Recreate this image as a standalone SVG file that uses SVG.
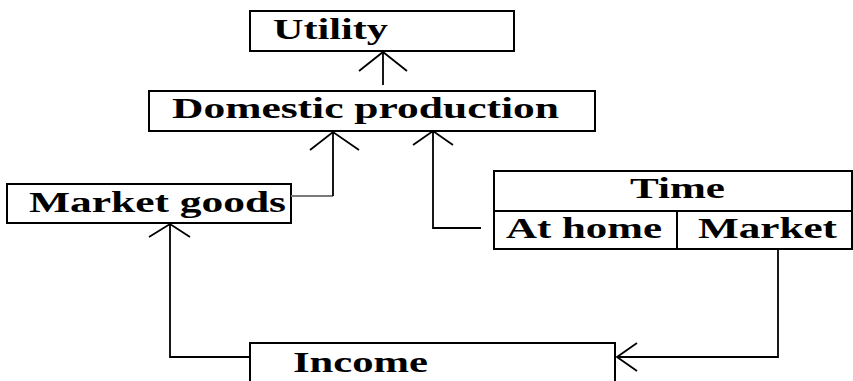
<svg xmlns="http://www.w3.org/2000/svg" width="853" height="381" viewBox="0 0 853 381">
<style>
.box{fill:#fff;stroke:#000;stroke-width:2}
.lbl{font-family:"Liberation Serif","Times New Roman",serif;font-weight:bold;font-size:29px;fill:#000}
.conn{fill:none;stroke:#000;stroke-width:1.8}
.gray{stroke:#7a7a7a}
</style>
<rect width="853" height="381" fill="#fff"/>
<g id="utility">
<rect class="box" x="250" y="11" width="264" height="40"/>
<text class="lbl" x="273" y="39" textLength="115" lengthAdjust="spacingAndGlyphs">Utility</text>
</g>
<g id="domestic-production">
<rect class="box" x="149" y="91" width="446" height="40"/>
<text class="lbl" x="172" y="118" textLength="387" lengthAdjust="spacingAndGlyphs">Domestic production</text>
</g>
<g id="market-goods">
<rect class="box" x="7" y="184" width="284" height="39"/>
<text class="lbl" x="29" y="212" textLength="257" lengthAdjust="spacingAndGlyphs">Market goods</text>
</g>
<g id="time">
<rect class="box" x="494" y="171" width="358" height="78"/>
<line class="box" x1="494" y1="211" x2="852" y2="211"/>
<line class="box" x1="677" y1="211" x2="677" y2="249"/>
<text class="lbl" x="630" y="198" textLength="95" lengthAdjust="spacingAndGlyphs">Time</text>
<text class="lbl" x="506" y="238" font-size="27" textLength="156" lengthAdjust="spacingAndGlyphs">At home</text>
<text class="lbl" x="698" y="238" font-size="27" textLength="139" lengthAdjust="spacingAndGlyphs">Market</text>
</g>
<g id="income">
<rect class="box" x="250" y="343" width="365" height="50"/>
<text class="lbl" x="293" y="372" textLength="135" lengthAdjust="spacingAndGlyphs">Income</text>
</g>
<g id="connectors">
<path class="conn" d="M383,85 V52 M359,71 L383,52 L407,71"/>
<path class="conn gray" d="M291,196 H333"/>
<path class="conn" d="M333,196 V132 M310,150 L333,132 L359,150"/>
<path class="conn" d="M481,228 H433 V131 M413,145 L433,131 L453,145"/>
<path class="conn" d="M778,249 V357 H617 M637,343 L617,357 L637,371"/>
<path class="conn" d="M250,357 H170 V224 M149,237 L170,224 L190,237"/>
</g>
</svg>
